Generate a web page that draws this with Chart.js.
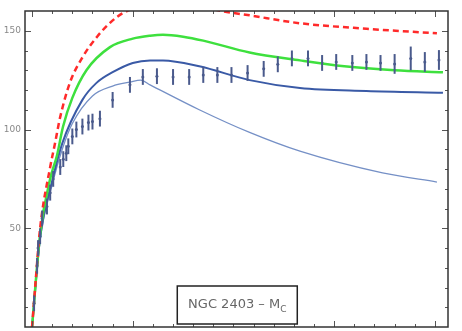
<!DOCTYPE html>
<html>
<head>
<meta charset="utf-8">
<script src="https://cdn.jsdelivr.net/npm/chart.js@4"></script>
<style>
  html, body { margin: 0; padding: 0; background: #fff; }
  #wrap { width: 462px; height: 331px; }
</style>
</head>
<body>
<div id="wrap"><canvas id="c" width="462" height="331"></canvas></div>
<script>
// rotation curve, NGC 2403 (radius in kpc, velocity in km/s)
const obsR   = [0.1, 0.25, 0.3, 0.4, 0.5, 0.74, 0.9, 1.05, 1.4, 1.55, 1.7, 1.8, 2.0, 2.2, 2.5, 2.8, 3.0, 3.37, 4.0, 4.86, 5.5, 6.2, 7.0, 7.8, 8.5, 9.2, 9.9, 10.7, 11.5, 12.2, 12.9, 13.7, 14.4, 15.1, 15.9, 16.6, 17.3, 18.0, 18.8, 19.5, 20.2];
const obsV   = [12, 31, 40, 46, 55, 61, 68, 75, 81, 85, 88, 91.5, 96.5, 100, 101.5, 103.5, 104, 105.5, 115, 122.6, 126.6, 127, 126.6, 126.6, 127.6, 127.6, 127.6, 128.6, 130.7, 133, 136, 136, 133.7, 134.2, 133.7, 134.2, 133.7, 133.2, 136, 134.2, 135.2];
const obsErr = [4, 4, 4, 4, 4, 4, 4, 4, 4, 4, 4, 4, 4, 4, 4, 4, 4, 4, 4, 4, 4, 4, 4, 4, 4, 4, 4, 4, 4, 4, 4, 4, 4, 4, 4, 4, 4, 5, 6, 5, 5];

const redR = [0, 0.2, 0.4, 0.9, 1.14, 1.39, 1.89, 2.53, 3.23, 3.87, 4.52, 5.5, 7.0, 8.3, 9.4, 10.8, 13.3, 16.6, 20.1];
const redV = [0, 26, 50, 81, 93, 106, 124, 137, 147, 154, 159, 162.5, 164, 162.5, 160, 157.8, 153.8, 151, 148.7];

const greenR = [0, 0.4, 0.9, 1.24, 1.54, 2.0, 2.7, 3.87, 5.0, 5.86, 6.5, 7.5, 8.5, 10.8, 13.3, 15.5, 18.0, 20.4];
const greenV = [0, 47, 75, 87, 101.5, 116, 130, 141.7, 146, 147.5, 148, 147, 145, 139, 135, 132, 130, 129];

const blueR = [0, 0.4, 1.0, 1.5, 2.5, 3.2, 4.0, 5.0, 5.86, 6.5, 8.3, 10.8, 13.3, 16.6, 20.4];
const blueV = [0, 45, 74, 93, 115, 123.6, 129, 133.7, 135, 135, 132, 125, 121, 119.5, 118.6];

const thinR = [0, 0.4, 1.0, 1.5, 2.0, 3.0, 4.0, 4.86, 5.4, 5.86, 8.3, 10.8, 13.3, 17.4, 20.1];
const thinV = [0, 44, 72, 90, 103, 117, 122, 124, 125, 122.6, 110, 98.5, 89, 78, 73.4];

const yLabels = [50, 100, 150];
const xMajor = [0, 5, 10, 15, 20];
const boxLabel = 'NGC 2403 – M';
const boxSub = 'C';

const pts = (xs, ys) => xs.map((x, i) => ({ x, y: ys[i] }));

const frameTicks = {
  id: 'frameTicks',
  afterDraw(chart) {
    const { ctx, chartArea: a, scales } = chart;
    const xs = scales.x, ys = scales.y;
    ctx.save();
    ctx.strokeStyle = '#555';
    ctx.lineWidth = 1;
    // x ticks (top & bottom), major every 5, minor every 1
    for (let v = 0; v <= 20; v += 1) {
      const px = Math.round(xs.getPixelForValue(v)) + 0.5;
      const len = xMajor.includes(v) ? 6 : 3;
      ctx.beginPath();
      ctx.moveTo(px, a.bottom); ctx.lineTo(px, a.bottom - len);
      ctx.moveTo(px, a.top); ctx.lineTo(px, a.top + len);
      ctx.stroke();
    }
    for (let v = 10; v < 160; v += 10) {
      const py = Math.round(ys.getPixelForValue(v)) + 0.5;
      const len = v % 50 === 0 ? 6 : 3;
      ctx.beginPath();
      ctx.moveTo(a.left, py); ctx.lineTo(a.left + len, py);
      ctx.moveTo(a.right, py); ctx.lineTo(a.right - len, py);
      ctx.stroke();
    }
    // frame
    ctx.strokeStyle = '#333';
    ctx.lineWidth = 1.5;
    ctx.strokeRect(a.left, a.top, a.right - a.left, a.bottom - a.top);

    // label box
    const bw = 120, bh = 38;
    const bx = a.left + (a.right - a.left) * 0.36;
    const by = a.bottom - bh - 3;
    ctx.fillStyle = '#fff';
    ctx.fillRect(bx, by, bw, bh);
    ctx.strokeStyle = '#222';
    ctx.lineWidth = 1.5;
    ctx.strokeRect(bx, by, bw, bh);
    ctx.fillStyle = '#666';
    ctx.font = '13px "DejaVu Sans", sans-serif';
    ctx.textBaseline = 'middle';
    const tw = ctx.measureText(boxLabel).width;
    ctx.font = '9px "DejaVu Sans", sans-serif';
    const sw = ctx.measureText(boxSub).width;
    const tx = bx + (bw - tw - sw) / 2;
    ctx.font = '13px "DejaVu Sans", sans-serif';
    ctx.fillText(boxLabel, tx, by + bh / 2);
    ctx.font = '9px "DejaVu Sans", sans-serif';
    ctx.fillText(boxSub, tx + tw, by + bh / 2 + 5);
    ctx.restore();
  }
};

const errorBars = {
  id: 'errorBars',
  afterDatasetsDraw(chart) {
    const { ctx, scales } = chart;
    ctx.save();
    ctx.strokeStyle = '#4a5a8c';
    ctx.lineWidth = 2;
    obsR.forEach((r, i) => {
      const px = scales.x.getPixelForValue(r);
      const lo = scales.y.getPixelForValue(obsV[i] - obsErr[i]);
      const hi = scales.y.getPixelForValue(obsV[i] + obsErr[i]);
      ctx.beginPath();
      ctx.moveTo(px, lo); ctx.lineTo(px, hi);
      ctx.stroke();
    });
    ctx.restore();
  }
};

new Chart(document.getElementById('c'), {
  type: 'line',
  data: {
    datasets: [
      { data: pts(redR, redV), borderColor: '#ff2a2a', borderWidth: 2.5, borderDash: [6, 4], pointRadius: 0, cubicInterpolationMode: 'monotone' },
      { data: pts(greenR, greenV), borderColor: '#3ee03e', borderWidth: 2.5, pointRadius: 0, cubicInterpolationMode: 'monotone' },
      { data: pts(blueR, blueV), borderColor: '#3a5aa6', borderWidth: 2, pointRadius: 0, cubicInterpolationMode: 'monotone' },
      { data: pts(thinR, thinV), borderColor: '#7590c6', borderWidth: 1.3, pointRadius: 0, cubicInterpolationMode: 'monotone' },
      { data: pts(obsR, obsV), showLine: false, pointRadius: 1.5, pointBackgroundColor: '#4a5a8c', pointBorderWidth: 0 }
    ]
  },
  options: {
    responsive: false,
    animation: false,
    layout: { padding: { top: 11, right: 14, bottom: 2, left: 0 } },
    plugins: { legend: { display: false }, tooltip: { enabled: false } },
    scales: {
      x: {
        type: 'linear', min: -0.35, max: 20.65,
        display: false
      },
      y: {
        min: 0, max: 160,
        grid: { display: false, drawTicks: false },
        border: { display: false },
        afterBuildTicks: s => { s.ticks = yLabels.map(v => ({ value: v })); },
        ticks: { color: '#888', font: { size: 9, family: 'DejaVu Sans' }, padding: 4 },
        afterFit: s => { s.width = 25; s.paddingTop = 0; s.paddingBottom = 0; }
      }
    }
  },
  plugins: [errorBars, frameTicks]
});
</script>
</body>
</html>
